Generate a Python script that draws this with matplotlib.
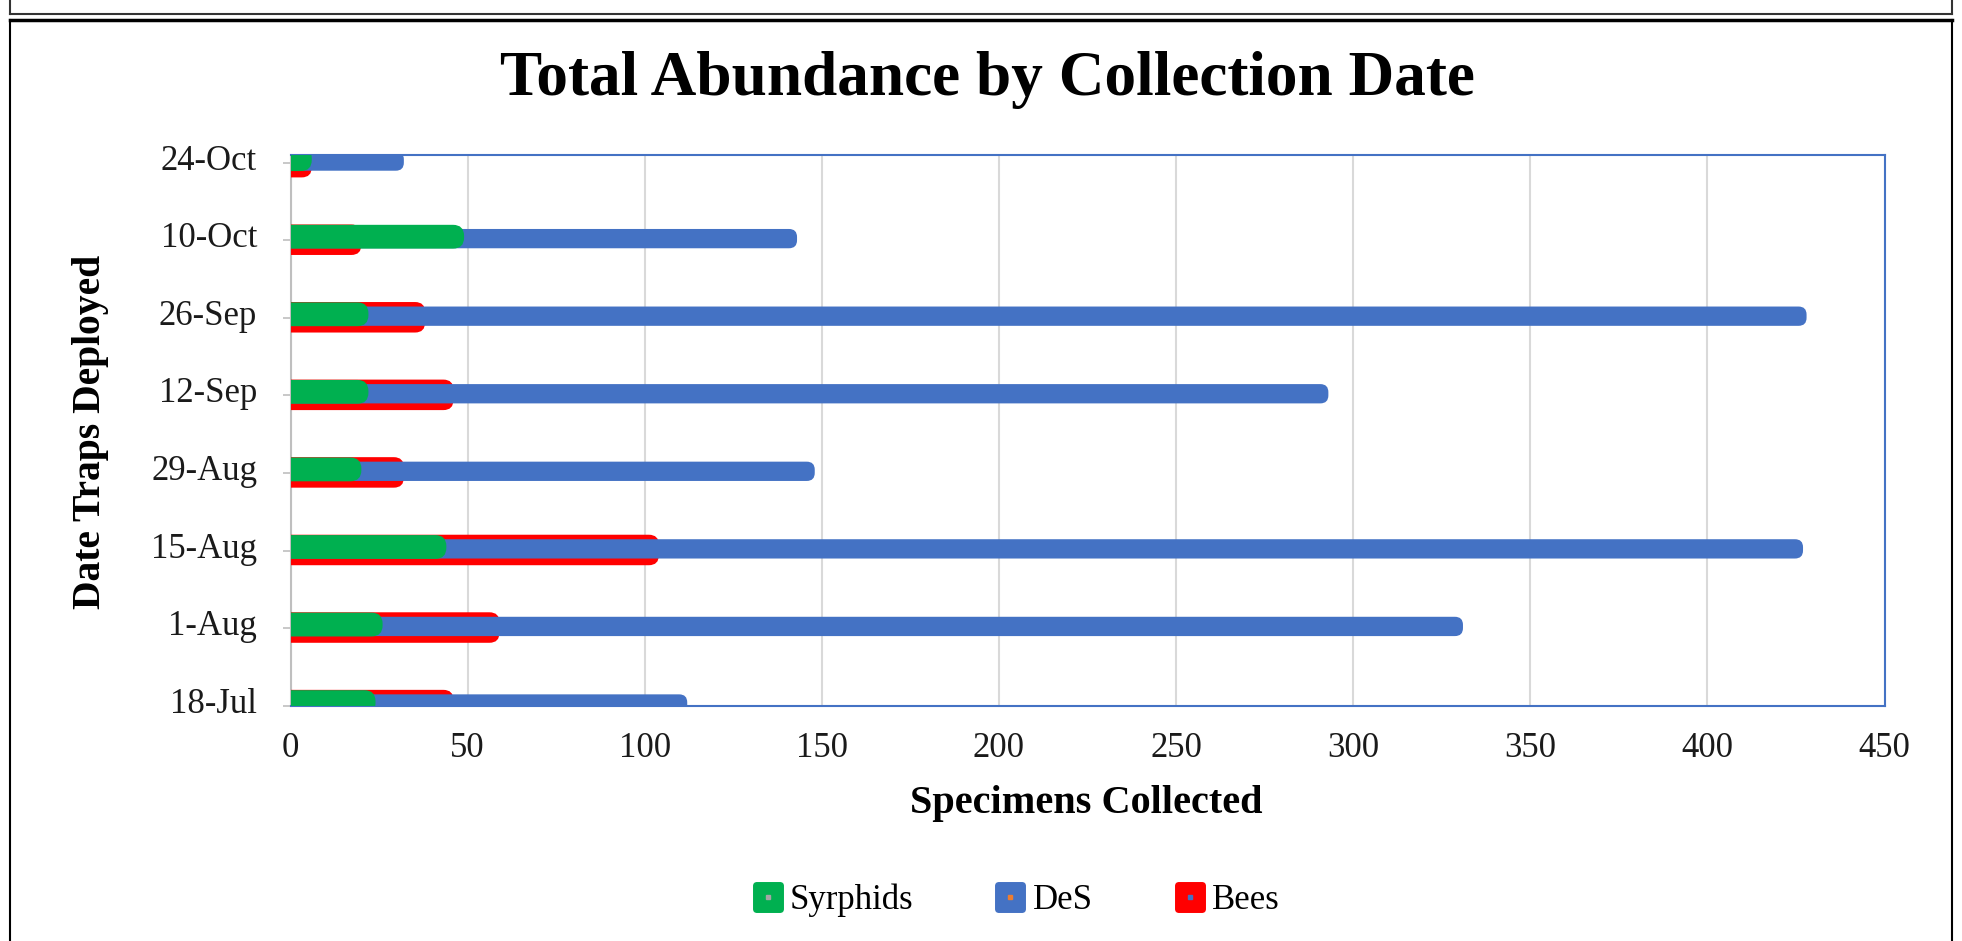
import matplotlib
matplotlib.use("Agg")
import matplotlib.pyplot as plt
from matplotlib.patches import FancyBboxPatch, BoxStyle
from matplotlib.lines import Line2D
from matplotlib.markers import MarkerStyle
from matplotlib.legend_handler import HandlerTuple
from matplotlib.transforms import ScaledTranslation

plt.rcParams['font.family'] = ['Liberation Serif', 'DejaVu Serif']

# ---- data ----
dates = ['18-Jul', '1-Aug', '15-Aug', '29-Aug', '12-Sep', '26-Sep', '10-Oct', '24-Oct']
syrphids = [24, 26, 44, 20, 22, 22, 49, 6]
des = [112, 331, 427, 148, 293, 428, 143, 32]
bees = [46, 59, 104, 32, 46, 38, 20, 6]
x_ticks = [0, 50, 100, 150, 200, 250, 300, 350, 400, 450]

GREEN = '#00B050'
BLUE = '#4472C4'
RED = '#FF0000'

W, H = 1962, 941
fig = plt.figure(figsize=(W / 100, H / 100), dpi=100)
fig.patch.set_facecolor('white')


def fx(px):
    return px / W


def fy(py):
    return 1 - py / H


ax_left, ax_right, ax_top, ax_bottom = 290.5, 1884.5, 155.0, 705.7
ax = fig.add_axes([fx(ax_left), fy(ax_bottom), (ax_right - ax_left) / W, (ax_bottom - ax_top) / H])
ax.set_xlim(0, 450)
ax.set_ylim(0, 7.1)

px_x = ax.bbox.width / 450.0
px_y = ax.bbox.height / 7.1

# (values, colour, top offset px, bottom offset px, corner radius px, zorder)
series = [
    (bees, RED, 15.85, -14.65, 10, 3),
    (des, BLUE, 11.35, -7.95, 8, 4),
    (syrphids, GREEN, 15.5, -8.3, 11, 5),
]

for values, color, top, bot, r, z in series:
    R = r / px_x
    for i, v in enumerate(values):
        y0 = i + bot / px_y
        h = (top - bot) / px_y
        patch = FancyBboxPatch((-R, y0), v + R, h,
                               boxstyle=BoxStyle.Round(pad=0, rounding_size=R),
                               mutation_aspect=px_x / px_y,
                               facecolor=color, edgecolor='none', zorder=z)
        ax.add_patch(patch)

ax.set_xticks(x_ticks)
ax.set_xticklabels([str(t) for t in x_ticks])
ax.set_yticks(range(len(dates)))
ax.set_yticklabels(dates)
ax.grid(axis='x', color='#D9D9D9', linewidth=1.5, zorder=0)
ax.set_axisbelow(True)
ax.tick_params(axis='x', length=0, pad=19, labelsize=25, labelcolor='#1a1a1a')
ax.tick_params(axis='y', length=6, width=1.2, color='#BFBFBF', pad=18, labelsize=25, labelcolor='#1a1a1a')
lift = ScaledTranslation(0, 4 / 72, fig.dpi_scale_trans)
for lab in ax.get_yticklabels():
    lab.set_transform(lab.get_transform() + lift)

for side in ['top', 'right', 'bottom']:
    ax.spines[side].set_color(BLUE)
    ax.spines[side].set_linewidth(1.5)
ax.spines['left'].set_color('#BFBFBF')
ax.spines['left'].set_linewidth(1.5)

# titles and axis labels
fig.text(fx(987), fy(80), 'Total Abundance by Collection Date', ha='center', va='center',
         fontsize=45.5, fontweight='bold', color='black')
fig.text(fx(1086), fy(803), 'Specimens Collected', ha='center', va='center',
         fontsize=29, fontweight='bold', color='black')
fig.text(fx(91), fy(432), 'Date Traps Deployed', ha='center', va='center', rotation=90,
         fontsize=28.5, fontweight='bold', color='black')

# legend with rounded square swatches
def swatch(color, dot):
    sq = Line2D([], [], ls='', marker=MarkerStyle('s', joinstyle='round'), markersize=17,
                markerfacecolor=color, markeredgecolor=color, markeredgewidth=5)
    dt = Line2D([], [], ls='', marker='s', markersize=2.5, color=dot)
    return (sq, dt)


handles = [swatch(GREEN, '#A5A5A5'), swatch(BLUE, '#ED7D31'), swatch(RED, BLUE)]
fig.legend(handles, ['Syrphids', 'DeS', 'Bees'], handler_map={tuple: HandlerTuple(ndivide=1, pad=0)},
           loc='center', bbox_to_anchor=(fx(1016), fy(900)), bbox_transform=fig.transFigure,
           ncol=3, frameon=False, fontsize=25, handlelength=0.88, handletextpad=0.2,
           columnspacing=2.35)

# surrounding frames
def fline(x0, y0, x1, y1, lw, color='black'):
    fig.add_artist(Line2D([fx(x0), fx(x1)], [fy(y0), fy(y1)], transform=fig.transFigure,
                          color=color, linewidth=lw))


fline(10, 0, 10, 14, 1.5, '#333333')
fline(1952, 0, 1952, 14, 1.5, '#333333')
fline(10, 14, 1952, 14, 1.5, '#333333')
fline(10, 19.5, 1952, 19.5, 2.5)
fline(10, 19.5, 10, 941, 1.5)
fline(1952, 19.5, 1952, 941, 1.5)

fig.savefig('out.png', dpi=100, facecolor='white')
